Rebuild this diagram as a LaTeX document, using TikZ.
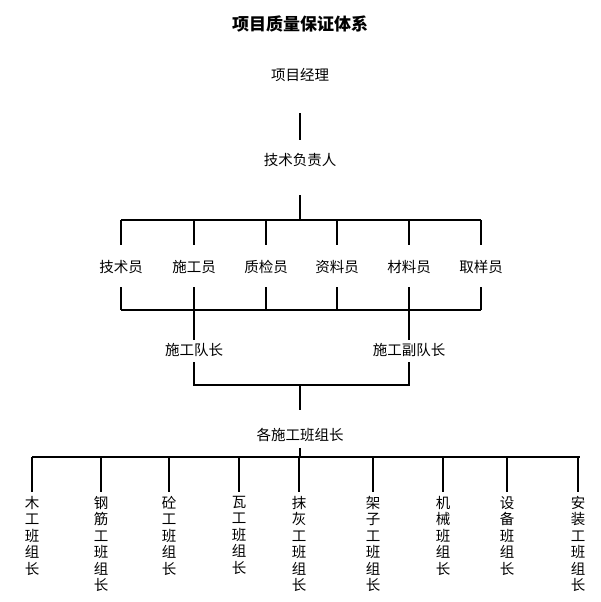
\documentclass[tikz,border=0pt]{standalone}
\usepackage{fontspec}
\setmainfont{Noto Sans CJK SC}
\begin{document}
\begin{tikzpicture}[x=1pt,y=-1pt,
  lbl/.style={inner sep=0pt,font=\fontsize{14.5}{15}\selectfont},
  vlbl/.style={inner sep=0pt,anchor=north,align=center,font=\fontsize{14.5}{16.5}\selectfont},
  ln/.style={line width=1.6pt}]
\useasboundingbox (0,0) rectangle (601,602);
\node[inner sep=0pt,font=\fontsize{17}{18}\selectfont\bfseries] (title) at (300,24) {项目质量保证体系};
\node[lbl] (pm) at (300,75) {项目经理};
\node[lbl] (tech) at (300,160) {技术负责人};
\foreach \n/\x/\t in {a/121/技术员,b/194/施工员,c/266/质检员,d/337/资料员,e/409/材料员,f/481/取样员}{
  \node[lbl] (\n) at (\x,267) {\t};
  \coordinate (\n t) at (\x,220); \coordinate (\n tt) at (\x,245);
  \coordinate (\n b) at (\x,287); \coordinate (\n bb) at (\x,310);
  \draw[ln] (\n t) -- (\n tt); \draw[ln] (\n b) -- (\n bb);
}
\coordinate (t1) at (300,113); \coordinate (t2) at (300,140);
\draw[ln] (t1) -- (t2);
\coordinate (t3) at (300,195);
\draw[ln] (t3) -- (300,220);
\draw[ln] (at) -- (ft);
\draw[ln] (abb) -- (fbb);
\node[lbl] (dz) at (194,350) {施工队长};
\node[lbl] (fdz) at (409,350) {施工副队长};
\draw[ln] (bbb) -- (194,340);
\draw[ln] (ebb) -- (409,340);
\coordinate (dzb) at (194,385); \coordinate (fdzb) at (409,385);
\draw[ln] (194,362) -- (dzb) -- (fdzb) -- (409,362);
\coordinate (m) at (300,385);
\draw[ln] (m) -- (300,410);
\node[lbl] (gz) at (300,435) {各施工班组长};
\coordinate (h1) at (32,457); \coordinate (h2) at (580,457);
\draw[ln] (h1) -- (h2);
\draw[ln] (300,448) -- (300,457);
\foreach \n/\x/\t in {g1/32/木\\工\\班\\组\\长,g2/101/钢\\筋\\工\\班\\组\\长,g3/169/砼\\工\\班\\组\\长,g4/239/瓦\\工\\班\\组\\长,g5/299/抹\\灰\\工\\班\\组\\长,g6/373/架\\子\\工\\班\\组\\长,g7/443/机\\械\\班\\组\\长,g8/507/设\\备\\班\\组\\长,g9/578/安\\装\\工\\班\\组\\长}{
  \draw[ln] (\x,457) -- (\x,492);
  \node[vlbl] (\n) at (\x,496) {\t};
}
\end{tikzpicture}
\end{document}
